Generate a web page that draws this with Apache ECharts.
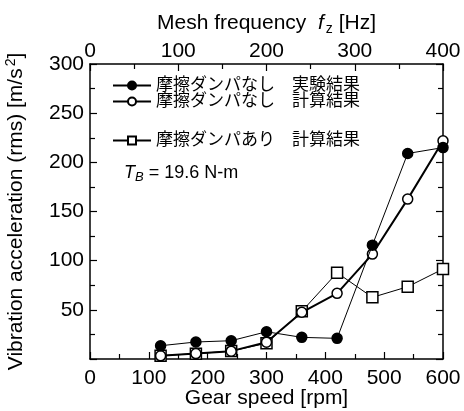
<!DOCTYPE html>
<html><head><meta charset="utf-8">
<script src="https://cdn.jsdelivr.net/npm/echarts@6/dist/echarts.min.js"></script>
<style>html,body{margin:0;padding:0;background:#fff}#c{width:464px;height:411px}</style>
</head><body><div id="c"></div>
<script>
const speeds = [120, 180, 240, 300, 360, 420, 480, 540, 600];
const expNoDamper = [13.5, 17.3, 18.6, 27.7, 22, 21, 115.8, 209, 215];
const calcNoDamper = [3.2, 5.5, 8, 17, 47.5, 66.8, 106.7, 162.6, 222];
const calcDamper = [3.4, 5.4, 8.1, 16, 48.5, 87.7, 62.7, 73.5, 91.5];
const names = ['摩擦ダンパなし　実験結果', '摩擦ダンパなし　計算結果', '摩擦ダンパあり　計算結果'];

const F = '"Liberation Sans", Arial, sans-serif';
const FJ = '"Liberation Sans", "Noto Sans CJK JP", sans-serif';
const FS = 21;
const chart = echarts.init(document.getElementById('c'));
function axisBase() {
  return {
    axisLine: {show: true, onZero: false, lineStyle: {color: '#000', width: 1.5}},
    axisTick: {show: true, inside: true, length: 7, lineStyle: {color: '#000', width: 1.2}},
    minorTick: {show: true, splitNumber: 2, length: 5, lineStyle: {color: '#000', width: 1.2}},
    splitLine: {show: false},
    axisLabel: {color: '#000', fontFamily: F, fontSize: FS, margin: 4}
  };
}
const mk = (i, data, sym, filled, lw, size) => ({
  name: names[i], type: 'line', data: speeds.map((s, k) => [s, data[k]]),
  symbol: sym, symbolSize: size, showSymbol: true,
  lineStyle: {color: '#000', width: lw},
  itemStyle: {color: filled ? '#000' : '#fff', borderColor: '#000', borderWidth: 1.5},
  z: 3 - i, animation: false
});
const legendCommon = {
  orient: 'vertical', left: 107, itemWidth: 38, itemHeight: 10, itemGap: 4,
  textStyle: {color: '#000', fontFamily: FJ, fontSize: 17, padding: [0,0,0,0]},
  selectedMode: false
};
chart.setOption({
  animation: false,
  grid: {left: 90, right: 21, top: 64, bottom: 52, containLabel: false, outerBoundsMode: 'none'},
  xAxis: [
    Object.assign(axisBase(), {type: 'value', position: 'bottom', min: 0, max: 600, interval: 100,
      axisLabel: {color: '#000', fontFamily: F, fontSize: FS, margin: 9},
      name: 'Gear speed [rpm]', nameLocation: 'middle', nameGap: 29, nameMoveOverlap: false,
      nameTextStyle: {color: '#000', fontFamily: F, fontSize: FS}}),
    Object.assign(axisBase(), {type: 'value', position: 'top', min: 0, max: 400, interval: 100,
      axisLabel: {color: '#000', fontFamily: F, fontSize: FS, margin: 2},
      name: '{a|Mesh frequency  }{i|f}{s|z}{a| [Hz]}', nameLocation: 'middle', nameGap: 27,
      nameTextStyle: {color: '#000', fontFamily: F, fontSize: FS, rich: {
        a: {fontFamily: F, fontSize: FS, color: '#000'},
        i: {fontFamily: F, fontSize: FS, fontStyle: 'italic', color: '#000'},
        s: {fontFamily: F, fontSize: 14, color: '#000', verticalAlign: 'bottom', padding: [12,0,0,2]}
      }}})
  ],
  yAxis: [
    Object.assign(axisBase(), {type: 'value', position: 'left', min: 0, max: 300, interval: 50,
      axisLabel: {color: '#000', fontFamily: F, fontSize: FS, margin: 6, formatter: v => v === 0 ? '' : v},
      name: '{a|Vibration acceleration (rms) [m/s}{s|2}{a|]}', nameLocation: 'middle', nameGap: 62,
      nameTextStyle: {color: '#000', fontFamily: F, fontSize: FS, rich: {
        a: {fontFamily: F, fontSize: FS, color: '#000'},
        s: {fontFamily: F, fontSize: 14, color: '#000', verticalAlign: 'top', padding: [0,0,10,2]}
      }}}),
    Object.assign(axisBase(), {type: 'value', position: 'right', min: 0, max: 300, interval: 50,
      axisLabel: {show: false}})
  ],
  legend: [
    Object.assign({}, legendCommon, {top: 72, data: [names[0]]}),
    Object.assign({}, legendCommon, {top: 88, data: [names[1]]}),
    Object.assign({}, legendCommon, {top: 127, data: [names[2]]})
  ],
  graphic: [{
    type: 'text', left: 124, top: 164,
    style: {text: '{i|T}{s|B}{a| = 19.6 N-m}', rich: {
      i: {fontFamily: F, fontSize: 18, fontStyle: 'italic', fill: '#000'},
      s: {fontFamily: F, fontSize: 13, fontStyle: 'italic', fill: '#000', verticalAlign: 'bottom', padding: [9,0,0,0]},
      a: {fontFamily: F, fontSize: 18, fill: '#000'}
    }}
  }],
  series: [
    mk(0, expNoDamper, 'circle', true, 1, 10),
    mk(1, calcNoDamper, 'circle', false, 2, 10),
    mk(2, calcDamper, 'rect', false, 1, 11)
  ]
});
</script></body></html>
